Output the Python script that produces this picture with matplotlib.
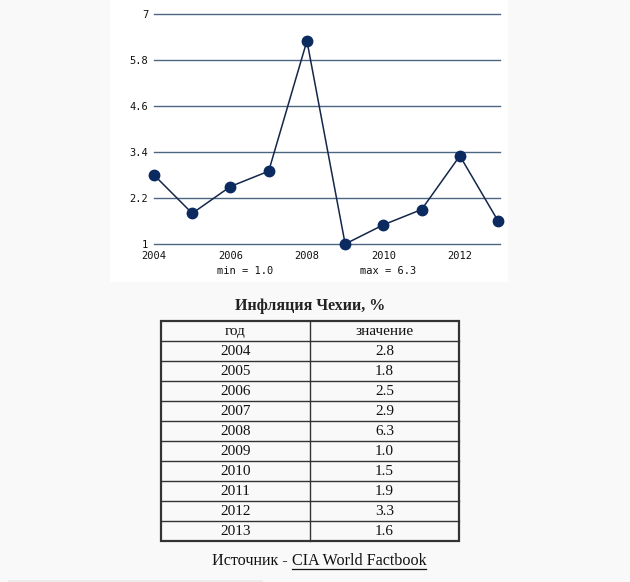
import matplotlib
matplotlib.use("Agg")
import matplotlib.pyplot as plt
from matplotlib.patches import Rectangle

years = [2004, 2005, 2006, 2007, 2008, 2009, 2010, 2011, 2012, 2013]
values = [2.8, 1.8, 2.5, 2.9, 6.3, 1.0, 1.5, 1.9, 3.3, 1.6]
y_ticks = [1, 2.2, 3.4, 4.6, 5.8, 7]
x_ticks = [2004, 2006, 2008, 2010, 2012]
title = "Инфляция Чехии, %"
col_names = ["год", "значение"]
source_prefix = "Источник - "
source_link = "CIA World Factbook"

W, H = 630, 582
BG = "#f9f9f9"
GRID = "#4b6680"
LINE = "#14264a"
MARK = "#0b2a60"
MONO = "DejaVu Sans Mono"


def px(x0, y0, x1, y1):
    # pixel box (top-left origin) -> figure fraction rect
    return [x0 / W, 1 - y1 / H, (x1 - x0) / W, (y1 - y0) / H]


fig = plt.figure(figsize=(W / 100, H / 100), dpi=100, facecolor=BG)

# overlay axes in pixel coords for panel, table and texts
bg = fig.add_axes([0, 0, 1, 1])
bg.set_xlim(0, W)
bg.set_ylim(H, 0)
bg.axis("off")
bg.add_patch(Rectangle((110, 0), 398, 282, facecolor="white", edgecolor="none", zorder=0))
bg.add_patch(Rectangle((8, 580), 255, 4, facecolor="#ececec", edgecolor="none", zorder=0))

# line chart
ax = fig.add_axes(px(154, 14, 500, 244))
ax.set_facecolor("white")
ax.plot(years, values, color=LINE, lw=1.1, marker="o", ms=7.5,
        mfc=MARK, mec=MARK, zorder=3, clip_on=False)
ax.set_xlim(2004, 2013.05)
ax.set_ylim(1, 7)
ax.set_yticks(y_ticks)
ax.set_yticklabels([f"{t:g}" for t in y_ticks])
ax.set_xticks(x_ticks)
ax.set_xticklabels([str(t) for t in x_ticks])
ax.grid(axis="y", color=GRID, lw=1.0)
ax.set_axisbelow(True)
for gl in ax.get_ygridlines():
    gl.set_clip_on(False)
for s in ax.spines.values():
    s.set_visible(False)
ax.tick_params(axis="both", length=0, labelsize=7.5, colors="#111111")
ax.tick_params(axis="y", pad=4)
ax.tick_params(axis="x", pad=5)
for lab in ax.get_xticklabels() + ax.get_yticklabels():
    lab.set_family(MONO)
ax.text(0.262, -0.117, f"min = {min(values):.1f}", transform=ax.transAxes,
        ha="center", va="center", fontsize=7.5, family=MONO, color="#111111")
ax.text(0.678, -0.117, f"max = {max(values):.1f}", transform=ax.transAxes,
        ha="center", va="center", fontsize=7.5, family=MONO, color="#111111")

# table
serif = "Liberation Serif"
bg.text(310, 306, title, ha="center", va="center", fontsize=11.5,
        fontweight="bold", family=serif, color="#222222")
left, mid, right = 161, 310, 459
top, row_h = 321, 20
n_rows = len(years) + 1
bottom = top + row_h * n_rows
bg.add_patch(Rectangle((left, top), right - left, bottom - top, facecolor="none",
                       edgecolor="#333333", lw=1.6, zorder=2))
bg.plot([mid, mid], [top, bottom], color="#333333", lw=1.0, zorder=2)
for i in range(1, n_rows):
    y = top + i * row_h
    bg.plot([left, right], [y, y], color="#333333", lw=1.0, zorder=2)
rows = [col_names] + [[str(y), f"{v:.1f}"] for y, v in zip(years, values)]
for i, (a, b) in enumerate(rows):
    yc = top + row_h * i + row_h / 2 + 0.5
    bg.text((left + mid) / 2, yc, a, ha="center", va="center", fontsize=11,
            family=serif, color="#111111")
    bg.text((mid + right) / 2, yc, b, ha="center", va="center", fontsize=11,
            family=serif, color="#111111")

# source line with underlined link
t1 = bg.text(212, 561, source_prefix, ha="left", va="center", fontsize=11.6,
             family=serif, color="#111111")
fig.canvas.draw()
r = fig.canvas.get_renderer()
bb = t1.get_window_extent(r)
x_link = bb.x1
t2 = fig.text(x_link / fig.dpi / fig.get_figwidth(), 1 - 561 / H, source_link,
              ha="left", va="center", fontsize=11.6, family=serif, color="#111111")
bb2 = t2.get_window_extent(r)
uy = 569
bg.plot([bb2.x0, bb2.x1], [uy, uy], color="#111111", lw=0.9)

fig.savefig("out.png", dpi=100, facecolor=BG)
